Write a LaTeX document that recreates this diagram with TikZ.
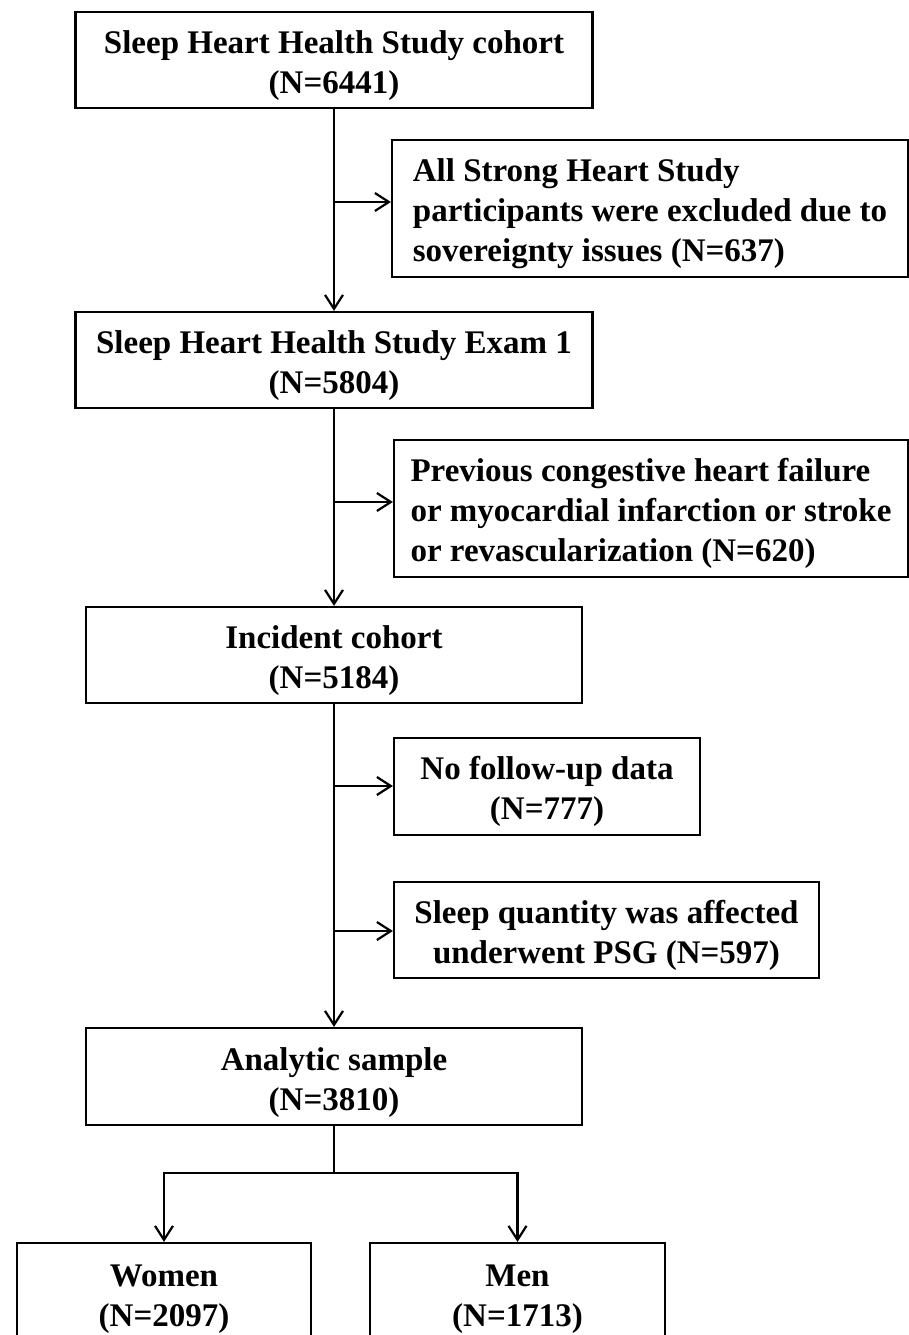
\documentclass[tikz,border=0pt]{standalone}
\usepackage{fontspec}
\setmainfont{Liberation Serif}
\usetikzlibrary{arrows.meta}
\newcommand{\topstrut}{\rule{0pt}{34pt}}
\begin{document}
\begin{tikzpicture}[x=1pt,y=-1pt,
  box/.style={draw, line width=2.2pt, inner sep=0pt, align=center,
    font=\bfseries\fontsize{33}{40}\selectfont},
  lbox/.style={box, align=left},
  conn/.style={line width=2.2pt},
  arr/.style={line width=2.2pt, -{Straight Barb[length=14pt,width=18pt]}}]
\clip (0,0) rectangle (909,1335);
\fill[white] (0,0) rectangle (909,1335);
% main column
\node[box, minimum width=517, minimum height=96] (b1) at (334,60)
  {\topstrut Sleep Heart Health Study cohort\\(N=6441)};
\node[lbox, minimum width=516, minimum height=137] (b2) at (650,208.5)
  {\topstrut All Strong Heart Study\\participants were excluded due to\\sovereignty issues (N=637)};
\node[box, minimum width=517, minimum height=96] (b3) at (334,360)
  {\topstrut Sleep Heart Health Study Exam 1\\(N=5804)};
\node[lbox, minimum width=514, minimum height=137] (b4) at (651,508.5)
  {\topstrut Previous congestive heart failure\\or myocardial infarction or stroke\\or revascularization (N=620)};
\node[box, minimum width=496, minimum height=96] (b5) at (334,655)
  {\topstrut Incident cohort\\(N=5184)};
\node[box, minimum width=306, minimum height=97] (b6) at (547,786.5)
  {\topstrut No follow-up data\\(N=777)};
\node[box, minimum width=425, minimum height=96] (b7) at (606.5,930)
  {\topstrut Sleep quantity was affected\\underwent PSG (N=597)};
\node[box, minimum width=496, minimum height=97] (b8) at (334,1076.5)
  {\topstrut Analytic sample\\(N=3810)};
\node[box, minimum width=294, minimum height=100] (b9) at (164,1293)
  {\topstrut Women\\(N=2097)};
\node[box, minimum width=295, minimum height=100] (b10) at (517.5,1293)
  {\topstrut Men\\(N=1713)};
% connectors
\coordinate (j1) at (334,202);
\coordinate (j2) at (334,502);
\coordinate (j3) at (334,786);
\coordinate (j4) at (334,931);
\coordinate (sp) at (334,1173);
\draw[arr] (b1.south) -- (b3.north);
\draw[arr] (j1) -- (j1 -| b2.west);
\draw[arr] (b3.south) -- (b5.north);
\draw[arr] (j2) -- (j2 -| b4.west);
\draw[arr] (b5.south) -- (b8.north);
\draw[arr] (j3) -- (j3 -| b6.west);
\draw[arr] (j4) -- (j4 -| b7.west);
\draw[conn] (b8.south) -- (sp);
\draw[arr] (sp) -| (b9.north);
\draw[arr] (sp) -| (b10.north);
\end{tikzpicture}
\end{document}
